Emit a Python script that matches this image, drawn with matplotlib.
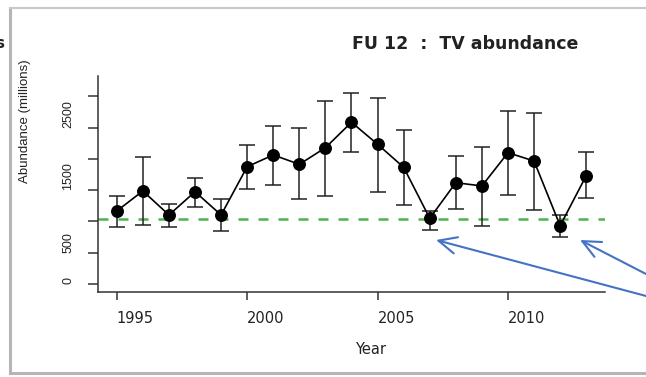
import matplotlib.pyplot as plt
from matplotlib.lines import Line2D

# data
years = list(range(1995, 2014))
abundance = [1165, 1486, 1101, 1474, 1101, 1875, 2063, 1913, 2179, 2587,
             2234, 1865, 1048, 1619, 1566, 2099, 1966, 929, 1731]
upper = [1410, 2026, 1282, 1694, 1353, 2223, 2527, 2490, 2933, 3051,
         2971, 2463, 1170, 2046, 2196, 2768, 2740, 1101, 2106]
lower = [909, 941, 909, 1234, 840, 1513, 1587, 1353, 1410, 2106,
         1474, 1261, 861, 1197, 925, 1421, 1181, 753, 1369]
reference = 1030
yticks = [0, 500, 1000, 1500, 2000, 2500, 3000]
ylabels = ['0', '500', '', '1500', '', '2500', '']
xticks = [1995, 2000, 2005, 2010]

W, H = 646, 377
fig = plt.figure(figsize=(W / 100, H / 100), dpi=100)
ax = fig.add_axes([98 / W, 1 - 291.7 / H, (605 - 98) / W, (291.7 - 76) / H])

yerr = [[a - l for a, l in zip(abundance, lower)],
        [u - a for a, u in zip(abundance, upper)]]
ax.errorbar(years, abundance, yerr=yerr, fmt='none', ecolor='#222222',
            elinewidth=1.1, capsize=6, capthick=1.1, zorder=2)
ax.plot(years, abundance, color='black', lw=1.2, zorder=3)
ax.plot(years, abundance, 'o', color='black', ms=8.3, zorder=4)
ax.axhline(reference, color='#4db34d', lw=1.8, ls=(0, (4, 4)), zorder=1)

ax.set_xlim(1994.28, 2013.72)
ax.set_ylim(-128, 3328)
for s in ['top', 'right']:
    ax.spines[s].set_visible(False)
for s in ['left', 'bottom']:
    ax.spines[s].set_linewidth(1.1)
    ax.spines[s].set_color('#333333')

ax.set_xticks(xticks)
ax.set_xticklabels([str(x) for x in xticks], family='DejaVu Sans', fontsize=10.5,
                   color='#222222')
for t in ax.get_xticklabels():
    t.set_ha('left')
ax.set_yticks(yticks)
ax.set_yticklabels(ylabels, family='Liberation Sans', fontsize=9, rotation=90,
                   color='#222222')
for t in ax.get_yticklabels():
    t.set_va('bottom')
ax.tick_params(axis='x', length=6, width=1.1, color='#333333', pad=8)
ax.tick_params(axis='y', length=7, width=1.1, color='#333333', pad=10)

fig.text(465 / W, 1 - 44 / H, 'FU 12  :  TV abundance', ha='center', va='center',
         family='DejaVu Sans', weight='bold', fontsize=12.5, color='#222222')
fig.text(371 / W, 1 - 350 / H, 'Year', ha='center', va='center',
         family='DejaVu Sans', fontsize=10.5, color='#222222')
fig.text(25 / W, 1 - 121.5 / H, 'Abundance (millions)', ha='center', va='center',
         rotation=90, family='Liberation Sans', fontsize=9.5, color='#222222')
fig.text(4 / W, 1 - 44 / H, 's', ha='right', va='center', family='DejaVu Sans',
         weight='bold', fontsize=11, color='#222222')

# gray frame of the slide
fig.add_artist(Line2D([10 / W, 10 / W], [1 - 8 / H, 1 - 373 / H], color='#b5b5b5', lw=2.2))
fig.add_artist(Line2D([10 / W, 1], [1 - 8 / H, 1 - 8 / H], color='#c8c8c8', lw=1.5))
fig.add_artist(Line2D([10 / W, 1], [1 - 373 / H, 1 - 373 / H], color='#b5b5b5', lw=2.2))

# blue arrows pointing at the low years
arrow = dict(arrowstyle='->,head_length=1.3,head_width=0.6', color='#4472c4',
             lw=1.5, shrinkA=0, shrinkB=0)
ax.annotate('', xy=(436, H - 240), xycoords='figure pixels',
            xytext=(660, H - 299.7), textcoords='figure pixels',
            arrowprops=arrow, annotation_clip=False)
ax.annotate('', xy=(580, H - 240), xycoords='figure pixels',
            xytext=(660, H - 281.2), textcoords='figure pixels',
            arrowprops=arrow, annotation_clip=False)

fig.savefig('out.png', dpi=100)
